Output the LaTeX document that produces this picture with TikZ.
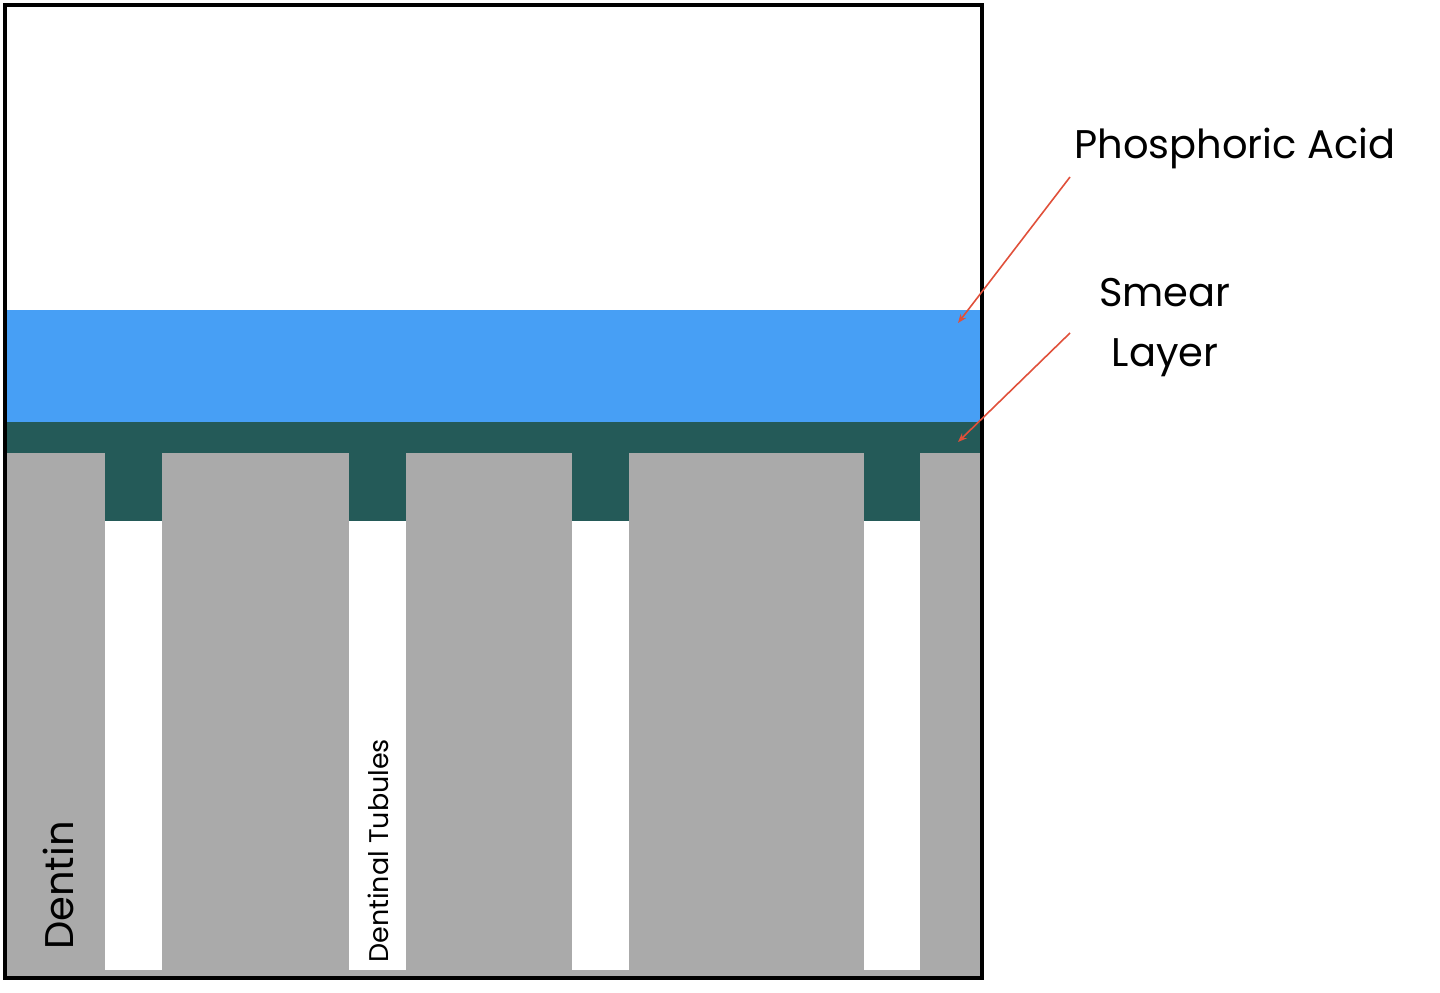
\documentclass[tikz,border=0pt]{standalone}
\usepackage{fontspec}
\usetikzlibrary{arrows.meta}
\setmainfont{Poppins}
\definecolor{blu}{HTML}{479FF5}
\definecolor{teal2}{HTML}{245A58}
\definecolor{gry}{HTML}{AAAAAA}
\definecolor{arr}{HTML}{E0503A}
\begin{document}
\begin{tikzpicture}[x=1pt,y=-1pt,
  lbl/.style={font=\fontsize{40}{48}\selectfont,inner sep=0pt},
  pointer/.style={arr,line width=1.6pt,-{Stealth[length=9pt,width=7pt]}}]
\useasboundingbox (0,0) rectangle (1440,993);
\fill[gry] (5,453) rectangle (982,978);
\fill[blu] (5,310) rectangle (982,422);
\fill[teal2] (5,422) rectangle (982,453);
\foreach \a/\b in {105/162,349/406,572/629,864/920}{
  \fill[white] (\a,453) rectangle (\b,970);
  \fill[teal2] (\a,453) rectangle (\b,521);
}
\draw[line width=4pt] (5,5) rectangle (982,978);
\node[lbl,rotate=90,anchor=west] (dentin) at (58,950) {Dentin};
\node[lbl,rotate=90,anchor=west,font=\fontsize{27}{32}\selectfont] (tub) at (378,963) {Dentinal Tubules};
\node[lbl] (pa) at (1235,148) {Phosphoric Acid};
\node[lbl,align=center,font=\fontsize{40}{60}\selectfont] (sl) at (1165,328) {Smear\\Layer};
\coordinate (pt1) at (958,323);
\coordinate (pt2) at (958,442);
\draw[pointer] (1070,177) -- (pt1);
\draw[pointer] (1070,333) -- (pt2);
\end{tikzpicture}
\end{document}
